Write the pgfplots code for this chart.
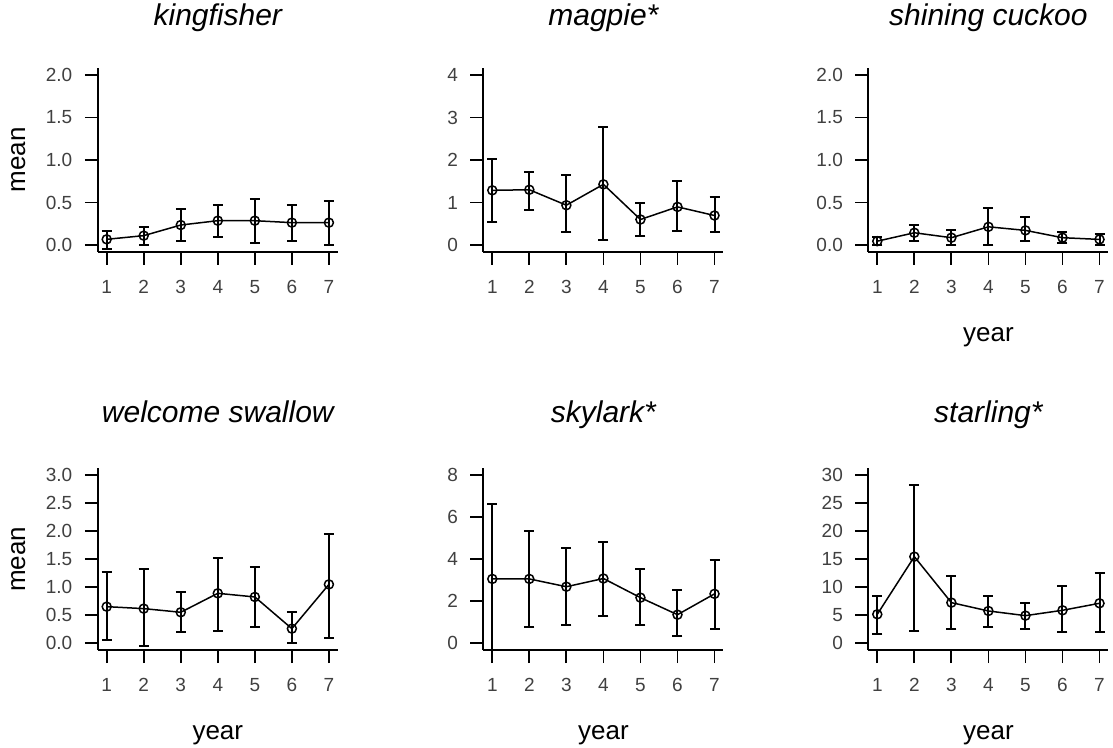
\documentclass[border=0pt]{standalone}
\usepackage{fontspec}
\setmainfont{Liberation Sans}
\usepackage{pgfplots}
\usepackage{pgfplotstable}
\pgfplotsset{compat=1.18}

\pgfplotstableread{
x y lo hi
1 0.067 -0.05 0.17
2 0.11 0.00 0.216
3 0.235 0.043 0.427
4 0.286 0.09 0.475
5 0.286 0.027 0.54
6 0.263 0.043 0.475
7 0.263 -0.004 0.518
}\kingfisher
\pgfplotstableread{
x y lo hi
1 1.287 0.546 2.03
2 1.30 0.82 1.72
3 0.936 0.30 1.64
4 1.427 0.117 2.77
5 0.60 0.218 0.99
6 0.897 0.335 1.505
7 0.694 0.304 1.12
}\magpie
\pgfplotstableread{
x y lo hi
1 0.045 -0.005 0.09
2 0.144 0.043 0.234
3 0.086 0.0 0.175
4 0.214 0.0 0.43
5 0.172 0.043 0.324
6 0.086 0.027 0.148
7 0.066 0.0 0.129
}\cuckoo
\pgfplotstableread{
x y lo hi
1 0.653 0.06 1.27
2 0.618 -0.04 1.32
3 0.553 0.196 0.91
4 0.891 0.22 1.515
5 0.826 0.297 1.355
6 0.261 0.0 0.553
7 1.05 0.09 1.94
}\swallow
\pgfplotstableread{
x y lo hi
1 3.06 -0.6 6.6
2 3.06 0.79 5.36
3 2.69 0.87 4.55
4 3.08 1.32 4.83
5 2.17 0.87 3.52
6 1.36 0.35 2.54
7 2.35 0.68 3.96
}\skylark
\pgfplotstableread{
x y lo hi
1 5.17 1.66 8.5
2 15.45 2.2 28.3
3 7.25 2.55 12.06
4 5.76 2.97 8.5
5 4.93 2.55 7.13
6 5.88 1.96 10.16
7 7.13 1.96 12.47
}\starling

\pgfplotsset{
  panel/.style={
    scale only axis, width=240pt,
    xmin=0.76, xmax=7.24, xtick={1,...,7},
    axis x line*=bottom, axis y line*=left,
    axis line style={line width=2pt,-},
    tick style={line width=1.8pt, black},
    xtick align=outside, ytick align=outside, major tick length=13pt,
    ticklabel style={font=\fontsize{19}{19}\selectfont, text=black!75},
    yticklabel style={xshift=-9pt},
    xticklabel style={yshift=-12pt},
    /pgf/number format/assume math mode=true,
    title style={anchor=base, font=\itshape\fontsize{30}{30}\selectfont},
    label style={font=\fontsize{26}{26}\selectfont},
  },
  toprow/.style={height=183.6pt, title style={at={(axis description cs:0.5,1.199)}},
    xlabel style={at={(axis description cs:0.5,-0.49)}, anchor=base}},
  botrow/.style={height=181.7pt, title style={at={(axis description cs:0.5,1.22)}},
    xlabel style={at={(axis description cs:0.5,-0.495)}, anchor=base}},
  meanlabel/.style={ylabel={mean}, ylabel style={at={(axis description cs:-0.303,0.5)}, anchor=base, rotate=0}},
  dec1/.style={yticklabel style={/pgf/number format/.cd, fixed, fixed zerofill, precision=1}},
  series/.style={black, line width=1.5pt, mark=o, mark size=4.5pt,
    mark options={line width=1.5pt},
    error bars/.cd, y dir=both, y explicit,
    error bar style={line width=2pt},
    error mark options={rotate=90, mark size=5pt, line width=2pt}},
}
\newcommand{\series}[1]{\addplot[series] table[x=x, y=y,
  y error plus expr=\thisrow{hi}-\thisrow{y},
  y error minus expr=\thisrow{y}-\thisrow{lo}] {#1};}

\begin{document}
\begin{tikzpicture}
\path[use as bounding box] (0,0) rectangle (1113pt,-747pt);

\begin{axis}[panel, toprow, meanlabel, dec1, at={(97.8pt,-251.8pt)}, anchor=south west,
  title={kingfisher}, ymin=-0.08, ymax=2.08, ytick={0,0.5,...,2.0}]
\series{\kingfisher}
\end{axis}

\begin{axis}[panel, toprow, at={(483.4pt,-251.8pt)}, anchor=south west,
  title={magpie*}, ymin=-0.16, ymax=4.16, ytick={0,1,...,4}]
\series{\magpie}
\end{axis}

\begin{axis}[panel, toprow, dec1, at={(868.4pt,-251.8pt)}, anchor=south west,
  title={shining cuckoo}, xlabel={year}, ymin=-0.08, ymax=2.08, ytick={0,0.5,...,2.0}]
\series{\cuckoo}
\end{axis}

\begin{axis}[panel, botrow, meanlabel, dec1, at={(97.8pt,-650pt)}, anchor=south west,
  title={welcome swallow}, xlabel={year}, ymin=-0.12, ymax=3.12, ytick={0,0.5,...,3.0}]
\series{\swallow}
\end{axis}

\begin{axis}[panel, botrow, at={(483.4pt,-650pt)}, anchor=south west,
  title={skylark*}, xlabel={year}, ymin=-0.32, ymax=8.32, ytick={0,2,...,8}]
\series{\skylark}
\end{axis}

\begin{axis}[panel, botrow, at={(868.4pt,-650pt)}, anchor=south west,
  title={starling*}, xlabel={year}, ymin=-1.2, ymax=31.2, ytick={0,5,...,30}]
\series{\starling}
\end{axis}
\end{tikzpicture}
\end{document}
